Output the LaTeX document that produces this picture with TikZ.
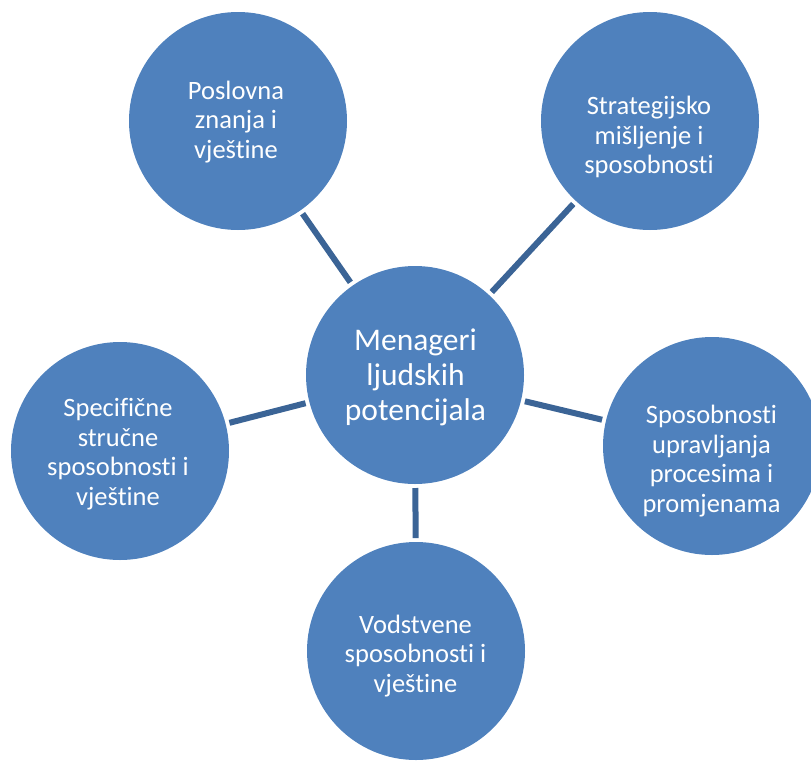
\documentclass[tikz,border=0pt]{standalone}
\usepackage{fontspec}
\setmainfont{Carlito}[Ligatures=NoCommon]
\definecolor{circfill}{HTML}{4F81BD}
\definecolor{linkcol}{HTML}{3B6496}
\begin{document}
\begin{tikzpicture}[x=1pt,y=-1pt,
  bubble/.style={circle,fill=circfill,draw=none,minimum size=218pt,inner sep=0pt,outer sep=0pt},
  link/.style={draw=linkcol,line width=6pt,shorten >=4pt,shorten <=4pt},
  txt/.style={text=white,align=center,inner sep=0pt,font=\fontsize{26.5}{29.5}\selectfont},
  bigtxt/.style={text=white,align=center,inner sep=0pt,font=\fontsize{31.5}{35}\selectfont}]
\clip (0,0) rectangle (811,761);
\useasboundingbox (0,0) rectangle (811,761);
\node[bubble] (c)  at (415,375) {};
\node[bubble] (tl) at (238,121) {};
\node[bubble] (tr) at (650,121) {};
\node[bubble] (l)  at (120,451) {};
\node[bubble] (r)  at (712,446) {};
\node[bubble] (b)  at (416,651) {};
\draw[link] (c) -- (tl);
\draw[link] (c) -- (tr);
\draw[link] (c) -- (l);
\draw[link] (c) -- (r);
\draw[link] (c) -- (b);
\node[bigtxt] (tc)  at (415.5,377.7) {Menageri\\ljudskih\\potencijala};
\node[txt] (ttl) at (236,122) {Poslovna\\znanja i\\vještine};
\node[txt] (ttr) at (649,137) {Strategijsko\\mišljenje i\\sposobnosti};
\node[txt] (tl2) at (118,454) {Specifične\\stručne\\sposobnosti i\\vještine};
\node[txt] (tr2) at (711.5,461) {Sposobnosti\\upravljanja\\procesima i\\promjenama};
\node[txt] (tb)  at (415.5,656) {Vodstvene\\sposobnosti i\\vještine};
\end{tikzpicture}
\end{document}
